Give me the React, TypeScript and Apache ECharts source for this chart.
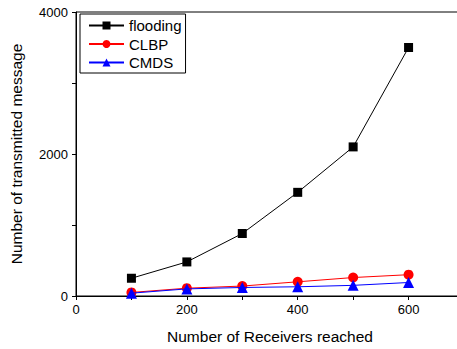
import React, { useEffect, useRef } from "react";
import * as echarts from "echarts";

const receivers = [100, 200, 300, 400, 500, 600];
const flooding = [250, 480, 880, 1460, 2100, 3500];
const clbp = [50, 110, 140, 200, 260, 300];
const cmds = [40, 100, 120, 130, 150, 190];

const FONT = "'Liberation Sans', Arial, Helvetica, sans-serif";

export default function App() {
  const ref = useRef<HTMLDivElement>(null);
  useEffect(() => {
    if (!ref.current) return;
    const chart = echarts.init(ref.current, undefined, { renderer: "svg" });
    const mk = (name: string, vals: number[], color: string, symbol: string, size: number) => ({
      name,
      type: "line",
      data: receivers.map((x, i) => [x, vals[i]]),
      symbol,
      symbolSize: size,
      lineStyle: { color, width: 1 },
      itemStyle: { color },
      z: name === "flooding" ? 3 : name === "CLBP" ? 2 : 4,
    });
    chart.setOption({
      animation: false,
      textStyle: { fontFamily: FONT },
      grid: {
        left: 71,
        top: 12,
        right: 6,
        bottom: 47,
        show: true,
        borderColor: "#000",
        borderWidth: 1,
      },
      legend: {
        orient: "vertical",
        left: 80,
        top: 14,
        borderColor: "#000",
        borderWidth: 1,
        borderRadius: 0,
        padding: [4, 4, 3, 8],
        itemWidth: 35,
        itemHeight: 10,
        itemGap: 3.5,
        textStyle: { fontFamily: FONT, fontSize: 15, lineHeight: 15, color: "#000" },
        data: ["flooding", "CLBP", "CMDS"],
      },
      xAxis: {
        type: "value",
        min: 0,
        max: 700,
        interval: 200,
        name: "Number of Receivers reached",
        nameLocation: "middle",
        nameGap: 32,
        nameTextStyle: { fontFamily: FONT, fontSize: 15.5, color: "#000" },
        axisLine: { lineStyle: { color: "#000", width: 1 } },
        axisTick: { show: true, inside: false, length: 4, lineStyle: { color: "#000" } },
        minorTick: { show: true, splitNumber: 2, length: 4, lineStyle: { color: "#000" } },
        axisLabel: {
          fontFamily: FONT,
          fontSize: 13,
          color: "#000",
          margin: 7,
          formatter: (v: number) => (v > 600 ? "" : String(v)),
        },
        splitLine: { show: false },
      },
      yAxis: {
        type: "value",
        min: 0,
        max: 4000,
        interval: 2000,
        name: "Number of transmitted message",
        nameLocation: "middle",
        nameGap: 52,
        nameTextStyle: { fontFamily: FONT, fontSize: 15.5, color: "#000" },
        axisLine: { show: true, lineStyle: { color: "#000", width: 1 } },
        axisTick: { show: true, inside: false, length: 4, lineStyle: { color: "#000" } },
        minorTick: { show: true, splitNumber: 2, length: 4, lineStyle: { color: "#000" } },
        axisLabel: {
          fontFamily: FONT,
          fontSize: 13,
          color: "#000",
          margin: 8,
          formatter: (v: number) => String(v),
        },
        splitLine: { show: false },
      },
      series: [
        mk("flooding", flooding, "#000000", "rect", 9),
        mk("CLBP", clbp, "#ff0000", "circle", 10),
        mk("CMDS", cmds, "#0000ff", "triangle", 11),
      ],
    });
    return () => chart.dispose();
  }, []);
  return (
    <div style={{ position: "absolute", left: 0, top: 0, width: 457, height: 349, overflow: "hidden" }}>
      <div ref={ref} style={{ width: 470, height: 349 }} />
    </div>
  );
}
